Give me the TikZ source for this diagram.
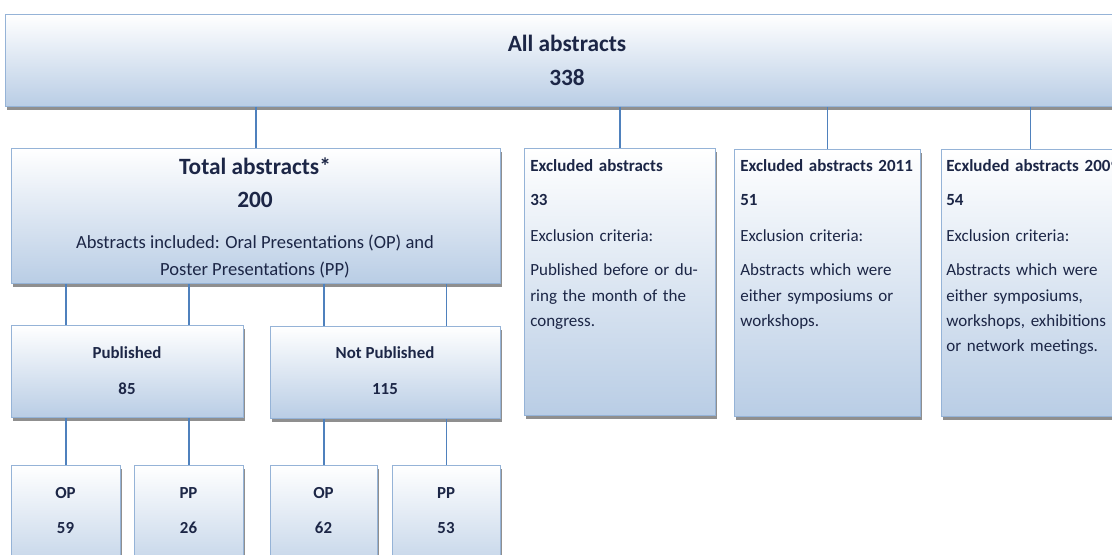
\documentclass[tikz,border=0pt]{standalone}
\usepackage{fontspec}
\setmainfont{Carlito}
\usetikzlibrary{shadows}
\definecolor{boxline}{RGB}{149,179,215}
\definecolor{boxfill}{RGB}{185,205,229}
\definecolor{linkblue}{RGB}{79,129,189}
\definecolor{navy}{RGB}{28,38,70}
\newlength\px
\setlength\px{0.025cm}

\begin{document}
\begin{tikzpicture}[x=0.025cm,y=-0.025cm,
  box/.style={draw=boxline,line width=0.6pt,top color=white,bottom color=boxfill,
    drop shadow={shadow xshift=1.3pt,shadow yshift=-2.2pt,fill=black!55,opacity=.8},
    anchor=north west,inner sep=0pt},
  link/.style={draw=linkblue,line width=1.3pt},
  big/.style={font=\fontsize{16.6}{20}\selectfont\bfseries,text=navy,anchor=base,inner sep=0pt},
  lab/.style={font=\fontsize{12}{14}\selectfont\bfseries,text=navy,anchor=base,inner sep=0pt},
  body/.style={font=\fontsize{13.2}{15}\selectfont,text=navy,anchor=base,inner sep=0pt},
  crit/.style={font=\fontsize{12.1}{18}\selectfont,text=navy,anchor=base west,inner sep=0pt,
    align=left,text width=180\px}]
\useasboundingbox (0,0) rectangle (1112,554);
\fill[white] (0,0) rectangle (1112,554);
\clip (0,0) rectangle (1112,554);

\node[box,minimum width=1114\px,minimum height=92\px] (all) at (5,14) {};
\node[big] (alltxt) at (567,51.5) {All abstracts};
\node[big] (allnum) at (567,85.5) {338};

\node[box,minimum width=489\px,minimum height=135\px] (tot) at (11,148) {};
\node[big] (tottxt) at (255,174.5) {Total abstracts*};
\node[big] (totnum) at (255,207.5) {200};
\node[body] (totinc) at (255,248.5) {Abstracts included: Oral Presentations (OP) and};
\node[body] (totpp) at (255,275.5) {Poster Presentations (PP)};

\node[box,minimum width=232\px,minimum height=92\px] (pub) at (11,325) {};
\node[lab] (pubtxt) at (127,358.5) {Published};
\node[lab] (pubnum) at (127,394.5) {85};
\node[box,minimum width=230\px,minimum height=92\px] (npub) at (270,326) {};
\node[lab] (npubtxt) at (385,358.5) {Not Published};
\node[lab] (npubnum) at (385,394.5) {115};

\node[box,minimum width=109\px,minimum height=120\px] (op1) at (11,465) {};
\node[box,minimum width=109\px,minimum height=120\px] (pp1) at (134,465) {};
\node[box,minimum width=107\px,minimum height=120\px] (op2) at (270,465) {};
\node[box,minimum width=108\px,minimum height=120\px] (pp2) at (392,465) {};
\node[lab] (op1txt) at (65.5,498.5) {OP};
\node[lab] (op1num) at (65.5,533.5) {59};
\node[lab] (pp1txt) at (188.5,498.5) {PP};
\node[lab] (pp1num) at (188.5,533.5) {26};
\node[lab] (op2txt) at (323.5,498.5) {OP};
\node[lab] (op2num) at (323.5,533.5) {62};
\node[lab] (pp2txt) at (446,498.5) {PP};
\node[lab] (pp2num) at (446,533.5) {53};

\node[box,minimum width=191\px,minimum height=267\px] (ex1) at (524,148) {};
\node[box,minimum width=186\px,minimum height=267\px] (ex2) at (734,149) {};
\node[box,minimum width=178\px,minimum height=267\px] (ex3) at (941,149) {};
\node[crit] (ex1txt) at (530,171.5) {\textbf{Excluded abstracts}\\[6.3pt]
  \textbf{33}\\[7.5pt]Exclusion criteria:\\[6.3pt]Published before or du-\\
  ring the month of the\\congress.};
\node[crit] (ex2txt) at (740,171.5) {\textbf{Excluded abstracts 2011}\\[6.3pt]
  \textbf{51}\\[7.5pt]Exclusion criteria:\\[6.3pt]Abstracts which were\\
  either symposiums or\\workshops.};
\node[crit] (ex3txt) at (946,171.5) {\textbf{Ecxluded abstracts 2009}\\[6.3pt]
  \textbf{54}\\[7.5pt]Exclusion criteria:\\[6.3pt]Abstracts which were\\
  either symposiums,\\workshops, exhibitions\\or network meetings.};

\draw[link] (all.south -| tot.north) -- (tot.north);
\draw[link] (all.south -| ex1.north) -- (ex1.north);
\draw[link] (all.south -| ex2.north) -- (ex2.north);
\draw[link] (all.south -| ex3.north) -- (ex3.north);
\draw[link] (tot.south -| op1.north) -- (op1.north |- pub.north);
\draw[link] (tot.south -| pp1.north) -- (pp1.north |- pub.north);
\draw[link] (tot.south -| op2.north) -- (op2.north |- npub.north);
\draw[link] (tot.south -| pp2.north) -- (pp2.north |- npub.north);
\draw[link] (pub.south -| op1.north) -- (op1.north);
\draw[link] (pub.south -| pp1.north) -- (pp1.north);
\draw[link] (npub.south -| op2.north) -- (op2.north);
\draw[link] (npub.south -| pp2.north) -- (pp2.north);
\end{tikzpicture}
\end{document}
